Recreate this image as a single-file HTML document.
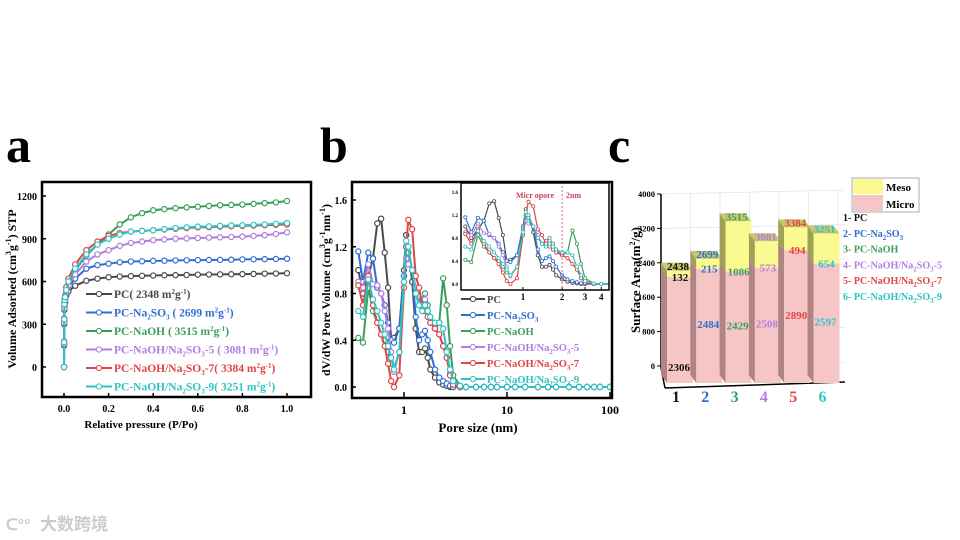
<!DOCTYPE html>
<html><head><meta charset="utf-8"><style>
html,body{margin:0;padding:0;background:#fff;}
svg{display:block;font-family:"Liberation Serif",serif;font-weight:bold;}
</style></head><body>
<svg id="fig" width="960" height="540" viewBox="0 0 960 540">
<text x="6" y="162" font-size="50">a</text>
<text x="320" y="162" font-size="50">b</text>
<text x="608" y="162" font-size="50">c</text>
<g id="pa"></g>
<g id="pb"></g>
<g id="pc"></g>
<text x="40" y="530" font-size="17" fill="#ccc" font-family="'Liberation Sans','Noto Sans CJK SC',sans-serif">大数跨境</text>
<text x="6" y="530" font-size="16" fill="#ccc" font-family="'Liberation Sans',sans-serif">ᑕ°°</text>
</svg>
<script>
const names=["PC","PC-Na2SO3","PC-NaOH","PC-NaOH/Na2SO3-5","PC-NaOH/Na2SO3-7","PC-NaOH/Na2SO3-9"];
const colors=["#4a4a4a","#2f6fd0","#3a9e5a","#b07ee0","#e04444","#2ec4c4"];
const areaLabels=["2348","2699","3515","3081","3384","3251"];
// Panel a data
const pA=[0,0.0005,0.001,0.002,0.003,0.005,0.01,0.02,0.05,0.1,0.15,0.2,0.25,0.3,0.35,0.4,0.45,0.5,0.55,0.6,0.65,0.7,0.75,0.8,0.85,0.9,0.95,1.0];
const vPC=[0,150,300,400,430,450,500,530,570,605,620,630,635,638,640,642,644,645,646,648,649,650,651,652,653,655,656,658];
const vNa=[0,160,320,420,450,470,520,560,620,690,715,725,735,740,742,745,746,748,749,750,751,752,753,755,756,757,758,760];
const vNaOH=[0,170,330,430,460,480,540,590,680,780,860,930,1000,1050,1080,1100,1108,1115,1120,1125,1130,1135,1137,1140,1145,1150,1155,1165];
const v5=[0,160,310,410,440,460,520,570,650,740,790,820,850,870,880,890,895,900,902,905,908,910,912,915,920,925,933,945];
const v7=[0,180,340,450,480,500,560,620,720,820,880,920,940,950,955,960,965,970,975,980,982,985,988,990,992,995,998,1000];
const v9=[0,175,335,440,470,490,540,600,690,790,860,900,930,950,955,960,968,975,980,985,987,990,993,995,998,1000,1005,1010];
const yTicksA=[0,300,600,900,1200];
const xTicksA=[0,0.2,0.4,0.6,0.8,1.0];
// Panel b data
const dB=[0.36,0.4,0.45,0.5,0.55,0.6,0.65,0.7,0.75,0.8,0.9,1.0,1.05,1.1,1.2,1.3,1.4,1.5,1.6,1.7,1.8,2.0,2.2,2.4,2.6,2.8,3.0,3.5,4,5,6,7,8,10,12,15,20,25,30,40,50,60,70,80,100];
const bPC=[1.0,0.8,0.95,1.1,1.4,1.44,1.15,0.85,0.4,0.42,0.5,1.0,1.3,1.2,0.9,0.5,0.3,0.3,0.33,0.25,0.15,0.08,0.04,0.02,0.01,0,0,0,0,0,0,0,0,0,0,0,0,0,0,0,0,0,0,0,0];
const bNa=[1.16,0.9,1.15,1.1,0.85,0.8,0.7,0.55,0.4,0.38,0.5,0.95,1.2,1.15,1.0,0.6,0.4,0.45,0.48,0.4,0.3,0.15,0.08,0.05,0.03,0.01,0,0,0,0,0,0,0,0,0,0,0,0,0,0,0,0,0,0,0];
const bNaOH=[0.42,0.38,0.85,0.65,0.55,0.45,0.4,0.3,0.2,0.15,0.3,0.9,1.2,1.15,1.0,0.8,0.7,0.75,0.8,0.7,0.6,0.5,0.55,0.93,0.7,0.35,0.1,0.01,0,0,0,0,0,0,0,0,0,0,0,0,0,0,0,0,0];
const b5=[0.9,0.85,1.05,0.88,0.87,0.8,0.65,0.5,0.3,0.13,0.3,0.85,1.1,1.05,1.0,0.85,0.7,0.7,0.75,0.65,0.55,0.5,0.45,0.35,0.25,0.12,0.03,0,0,0,0,0,0,0,0,0,0,0,0,0,0,0,0,0,0];
const b7=[0.87,0.7,0.95,0.7,0.55,0.45,0.35,0.2,0.05,0,0.1,0.85,1.2,1.43,1.35,0.95,0.85,0.7,0.65,0.6,0.55,0.5,0.45,0.35,0.25,0.1,0.02,0,0,0,0,0,0,0,0,0,0,0,0,0,0,0,0,0,0];
const b9=[0.65,0.6,0.92,0.75,0.65,0.55,0.45,0.35,0.25,0.15,0.3,0.9,1.25,1.2,1.0,0.8,0.7,0.65,0.7,0.65,0.6,0.55,0.55,0.5,0.3,0.15,0.05,0.01,0,0,0,0,0,0,0,0,0,0,0,0,0,0,0,0,0];
const yTicksB=[0,0.4,0.8,1.2,1.6];
const xTicksB=[1,10,100];
const yTicksInset=[0,0.4,0.8,1.2,1.6];
const xTicksInset=[1,2,3,4];
// Panel c data
const cats=["1","2","3","4","5","6"];
const micro=[2306,2484,2429,2508,2890,2597];
const meso=[132,215,1086,573,494,654];
const totals=[2438,2699,3515,3081,3384,3251];
const yTicksC=[0,800,1600,2400,3200,4000];

const NS="http://www.w3.org/2000/svg";
function mk(parent,tag,attrs,txt){const e=document.createElementNS(NS,tag);for(const k in attrs)e.setAttribute(k,attrs[k]);if(txt!==undefined)e.textContent=txt;parent.appendChild(e);return e;}

// ---------- Panel a ----------
const pa=document.getElementById('pa');
const ax=v=>64+v*223, ay=v=>367-v*(171/1200);
const seriesA=[vPC,vNa,vNaOH,v5,v7,v9];
seriesA.forEach((s,i)=>{
  const g=mk(pa,'g',{});
  
  
  mk(g,'polyline',{points:s.map((v,j)=>ax(pA[j])+','+ay(v)).join(' '),fill:'none',stroke:colors[i],'stroke-width':2});
  s.forEach((v,j)=>{const c=mk(g,'circle',{cx:ax(pA[j]),cy:ay(v),r:2.6,fill:'#fff',stroke:colors[i],'stroke-width':1.2});});
});
mk(pa,'rect',{x:42,y:182,width:269,height:215,fill:'none',stroke:'#000','stroke-width':2.5});
yTicksA.forEach(t=>{mk(pa,'line',{x1:42,x2:46,y1:ay(t),y2:ay(t),stroke:'#000','stroke-width':1.5});const e=mk(pa,'text',{x:37,y:ay(t)+4,'font-size':10,'text-anchor':'end'},String(t));});
xTicksA.forEach(t=>{mk(pa,'line',{x1:ax(t),x2:ax(t),y1:397,y2:393,stroke:'#000','stroke-width':1.5});const e=mk(pa,'text',{x:ax(t),y:412,'font-size':10,'text-anchor':'middle'},t.toFixed(1));});
let t=mk(pa,'text',{x:141,y:428,'font-size':11,'text-anchor':'middle'},'Relative pressure (P/Po)');
t=mk(pa,'text',{x:0,y:0,'font-size':12,'text-anchor':'middle',transform:'translate(16,289) rotate(-90)'});t.innerHTML='Volume Adsorbed (cm<tspan font-size="8" dy="-5">3</tspan><tspan dy="5">g</tspan><tspan font-size="8" dy="-5">-1</tspan><tspan dy="5">) STP</tspan>';
const legA=['PC( 2348 m<tspan font-size="7" dy="-4">2</tspan><tspan dy="4">g</tspan><tspan font-size="7" dy="-4">-1</tspan><tspan dy="4">)</tspan>',
'PC-Na<tspan font-size="7" dy="3">2</tspan><tspan dy="-3">SO</tspan><tspan font-size="7" dy="3">3</tspan><tspan dy="-3"> ( 2699 m</tspan><tspan font-size="7" dy="-4">2</tspan><tspan dy="4">g</tspan><tspan font-size="7" dy="-4">-1</tspan><tspan dy="4">)</tspan>',
'PC-NaOH ( 3515 m<tspan font-size="7" dy="-4">2</tspan><tspan dy="4">g</tspan><tspan font-size="7" dy="-4">-1</tspan><tspan dy="4">)</tspan>',
'PC-NaOH/Na<tspan font-size="7" dy="3">2</tspan><tspan dy="-3">SO</tspan><tspan font-size="7" dy="3">3</tspan><tspan dy="-3">-5 ( 3081 m</tspan><tspan font-size="7" dy="-4">2</tspan><tspan dy="4">g</tspan><tspan font-size="7" dy="-4">-1</tspan><tspan dy="4">)</tspan>',
'PC-NaOH/Na<tspan font-size="7" dy="3">2</tspan><tspan dy="-3">SO</tspan><tspan font-size="7" dy="3">3</tspan><tspan dy="-3">-7( 3384 m</tspan><tspan font-size="7" dy="-4">2</tspan><tspan dy="4">g</tspan><tspan font-size="7" dy="-4">-1</tspan><tspan dy="4">)</tspan>',
'PC-NaOH/Na<tspan font-size="7" dy="3">2</tspan><tspan dy="-3">SO</tspan><tspan font-size="7" dy="3">3</tspan><tspan dy="-3">-9( 3251 m</tspan><tspan font-size="7" dy="-4">2</tspan><tspan dy="4">g</tspan><tspan font-size="7" dy="-4">-1</tspan><tspan dy="4">)</tspan>'];
legA.forEach((h,i)=>{const y=294+i*18.5;const g=mk(pa,'g',{});
  mk(g,'line',{x1:86,x2:112,y1:y,y2:y,stroke:colors[i],'stroke-width':2});mk(g,'circle',{cx:99,cy:y,r:2.6,fill:'#fff',stroke:colors[i]});
  const e=mk(g,'text',{x:114,y:y+4,'font-size':11.5,fill:colors[i]});e.innerHTML=h;});

// ---------- Panel b ----------
const pb=document.getElementById('pb');
const seriesB=[bPC,bNa,bNaOH,b5,b7,b9];
const bx=v=>404+Math.log10(v)*103, by=v=>387-v*(187/1.6);
const cpb=mk(pb,'clipPath',{id:'clipB'});mk(cpb,'rect',{x:352,y:182,width:260,height:216});
seriesB.forEach((s,i)=>{
  const g=mk(pb,'g',{'clip-path':'url(#clipB)'});
  
  
  mk(g,'polyline',{points:s.map((v,j)=>bx(dB[j])+','+by(v)).join(' '),fill:'none',stroke:colors[i],'stroke-width':2});
  s.forEach((v,j)=>{const c=mk(g,'circle',{cx:bx(dB[j]),cy:by(v),r:2.6,fill:'#fff',stroke:colors[i],'stroke-width':1.2});});
});
mk(pb,'rect',{x:352,y:182,width:260,height:216,fill:'none',stroke:'#000','stroke-width':2.5});
yTicksB.forEach(v=>{mk(pb,'line',{x1:352,x2:356,y1:by(v),y2:by(v),stroke:'#000','stroke-width':1.5});const e=mk(pb,'text',{x:347,y:by(v)+4,'font-size':10,'text-anchor':'end'},v.toFixed(1));});
xTicksB.forEach(v=>{mk(pb,'line',{x1:bx(v),x2:bx(v),y1:397,y2:392,stroke:'#000','stroke-width':1.5});const e=mk(pb,'text',{x:bx(v),y:414,'font-size':12,'text-anchor':'middle'},String(v));});
t=mk(pb,'text',{x:478,y:432,'font-size':13,'text-anchor':'middle'},'Pore size (nm)');
t=mk(pb,'text',{x:0,y:0,'font-size':12,'text-anchor':'middle',transform:'translate(330,290) rotate(-90)'});t.innerHTML='dV/dW Pore Volume (cm<tspan font-size="8" dy="-5">3</tspan><tspan dy="5">g</tspan><tspan font-size="8" dy="-5">-1</tspan><tspan dy="5">nm</tspan><tspan font-size="8" dy="-5">-1</tspan><tspan dy="5">)</tspan>';
// inset
const ix=v=>523+Math.log10(v)*130, iy=v=>284-v*(92/1.6);
mk(pb,'rect',{x:461,y:183,width:148,height:107,fill:'#fff'});
const cpi=mk(pb,'clipPath',{id:'clipI'});mk(cpi,'rect',{x:461,y:183,width:148,height:107});
const inset=mk(pb,'g',{});
seriesB.forEach((s,i)=>{const g=mk(inset,'g',{'clip-path':'url(#clipI)'});
  mk(g,'polyline',{points:s.map((v,j)=>ix(dB[j])+','+iy(v)).join(' '),fill:'none',stroke:colors[i],'stroke-width':1.2});
  s.forEach((v,j)=>mk(g,'circle',{cx:ix(dB[j]),cy:iy(v),r:1.6,fill:'#fff',stroke:colors[i],'stroke-width':0.8}));});
mk(inset,'rect',{x:461,y:183,width:148,height:107,fill:'none',stroke:'#000','stroke-width':1.5});
yTicksInset.forEach(v=>{mk(inset,'text',{x:458,y:iy(v)+2,'font-size':5,'text-anchor':'end'},v.toFixed(1));});
xTicksInset.forEach(v=>{mk(inset,'line',{x1:ix(v),x2:ix(v),y1:290,y2:287,stroke:'#000'});mk(inset,'text',{x:ix(v),y:300,'font-size':9,'text-anchor':'middle'},String(v));});
mk(inset,'line',{x1:ix(2),x2:ix(2),y1:186,y2:290,stroke:'#d04060','stroke-dasharray':'2,2','stroke-width':0.8});
t=mk(inset,'text',{x:516,y:198,'font-size':8,fill:'#d04060'},'Micr opore');
mk(inset,'text',{x:566,y:198,'font-size':8,fill:'#d04060'},'2nm');
const legB=['PC','PC-Na<tspan font-size="7" dy="3">2</tspan><tspan dy="-3">SO</tspan><tspan font-size="7" dy="3">3</tspan>','PC-NaOH','PC-NaOH/Na<tspan font-size="7" dy="3">2</tspan><tspan dy="-3">SO</tspan><tspan font-size="7" dy="3">3</tspan><tspan dy="-3">-5</tspan>','PC-NaOH/Na<tspan font-size="7" dy="3">2</tspan><tspan dy="-3">SO</tspan><tspan font-size="7" dy="3">3</tspan><tspan dy="-3">-7</tspan>','PC-NaOH/Na<tspan font-size="7" dy="3">2</tspan><tspan dy="-3">SO</tspan><tspan font-size="7" dy="3">3</tspan><tspan dy="-3">-9</tspan>'];
legB.forEach((h,i)=>{const y=299+i*16;const g=mk(pb,'g',{});
  mk(g,'line',{x1:461,x2:485,y1:y,y2:y,stroke:colors[i],'stroke-width':2});mk(g,'circle',{cx:473,cy:y,r:2.6,fill:'#fff',stroke:colors[i]});
  const e=mk(g,'text',{x:487,y:y+4,'font-size':10.5,fill:colors[i]});e.innerHTML=h;});

// ---------- Panel c ----------
const pc=document.getElementById('pc');
const base=383, sc=0.046, bw=26, dx=-6, dy=-8;
const cy=v=>366-v*(172/4000);
for(let i=0;i<=6;i++){mk(pc,'line',{x1:661+i*29.5,y1:194-i*0.6,x2:661+i*29.5,y2:368,stroke:'#ddd','stroke-width':0.6});}
yTicksC.forEach(v=>{mk(pc,'line',{x1:661,x2:845,y1:cy(v),y2:cy(v)-4,stroke:'#ddd','stroke-width':0.6});});
mk(pc,'line',{x1:661,x2:661,y1:194,y2:368,stroke:'#000','stroke-width':1.5});
mk(pc,'line',{x1:661,x2:665,y1:368,y2:388,stroke:'#000','stroke-width':1.5});
mk(pc,'line',{x1:665,x2:845,y1:388,y2:382,stroke:'#000','stroke-width':1.5});
yTicksC.forEach(v=>{mk(pc,'line',{x1:657,x2:661,y1:cy(v),y2:cy(v),stroke:'#000'});const e=mk(pc,'text',{x:655,y:cy(v)+3,'font-size':8.5,'text-anchor':'end'},String(v));});
t=mk(pc,'text',{x:0,y:0,'font-size':13,'text-anchor':'middle',transform:'translate(640,280) rotate(-90)'});t.innerHTML='Surface Area(m<tspan font-size="8" dy="-5">2</tspan><tspan dy="5">/g)</tspan>';
cats.forEach((c,i)=>{
  const x=667+i*29.3, yMi=base-micro[i]*sc, yT=base-(micro[i]+meso[i])*sc;
  const g=mk(pc,'g',{});
  mk(g,'polygon',{points:`${x},${base} ${x+dx},${base+dy} ${x+dx},${yMi+dy} ${x},${yMi}`,fill:'#b08484'});
  mk(g,'polygon',{points:`${x},${yMi} ${x+dx},${yMi+dy} ${x+dx},${yT+dy} ${x},${yT}`,fill:'#a0a058'});
  mk(g,'polygon',{points:`${x},${yT} ${x+bw},${yT} ${x+bw+dx},${yT+dy} ${x+dx},${yT+dy}`,fill:'#c8c870'});
  const r1=mk(g,'rect',{x:x,y:yMi,width:bw,height:base-yMi,fill:'#f6c6c6'});
  const r2=mk(g,'rect',{x:x,y:yT,width:bw,height:yMi-yT,fill:'#fafa90'});
  const col=i==0?'#111':colors[i];
  mk(g,'text',{x:x+bw/2-2,y:yT-1,'font-size':11,'text-anchor':'middle',fill:col},String(totals[i]));
  mk(g,'text',{x:x+bw/2,y:yMi+4,'font-size':11,'text-anchor':'middle',fill:col},String(meso[i]));
  mk(g,'text',{x:x+bw/2-1,y:i==0?base-12:base-(micro[i]*sc)*0.48,'font-size':11,'text-anchor':'middle',fill:col},String(micro[i]));
  const l=mk(pc,'text',{x:x+bw/2-4,y:402,'font-size':16,'text-anchor':'middle',fill:col},c);
});
const lg=mk(pc,'g',{});
mk(lg,'rect',{x:852,y:178,width:67,height:34,fill:'#fff',stroke:'#999','stroke-width':0.8});
mk(lg,'rect',{x:853,y:179,width:30,height:15,fill:'#fafa90'});
mk(lg,'rect',{x:853,y:195,width:30,height:16,fill:'#f6c6c6'});
mk(lg,'text',{x:886,y:191,'font-size':11},'Meso');
mk(lg,'text',{x:886,y:208,'font-size':11},'Micro');
const legC=['1- PC','2- PC-Na<tspan font-size="7" dy="3">2</tspan><tspan dy="-3">SO</tspan><tspan font-size="7" dy="3">3</tspan>','3- PC-NaOH','4- PC-NaOH/Na<tspan font-size="7" dy="3">2</tspan><tspan dy="-3">SO</tspan><tspan font-size="7" dy="3">3</tspan><tspan dy="-3">-5</tspan>','5- PC-NaOH/Na<tspan font-size="7" dy="3">2</tspan><tspan dy="-3">SO</tspan><tspan font-size="7" dy="3">3</tspan><tspan dy="-3">-7</tspan>','6- PC-NaOH/Na<tspan font-size="7" dy="3">2</tspan><tspan dy="-3">SO</tspan><tspan font-size="7" dy="3">3</tspan><tspan dy="-3">-9</tspan>'];
legC.forEach((h,i)=>{const e=mk(pc,'text',{x:843,y:221+i*15.8,'font-size':10,fill:i==0?'#111':colors[i]});e.innerHTML=h;});
</script>
</body></html>
